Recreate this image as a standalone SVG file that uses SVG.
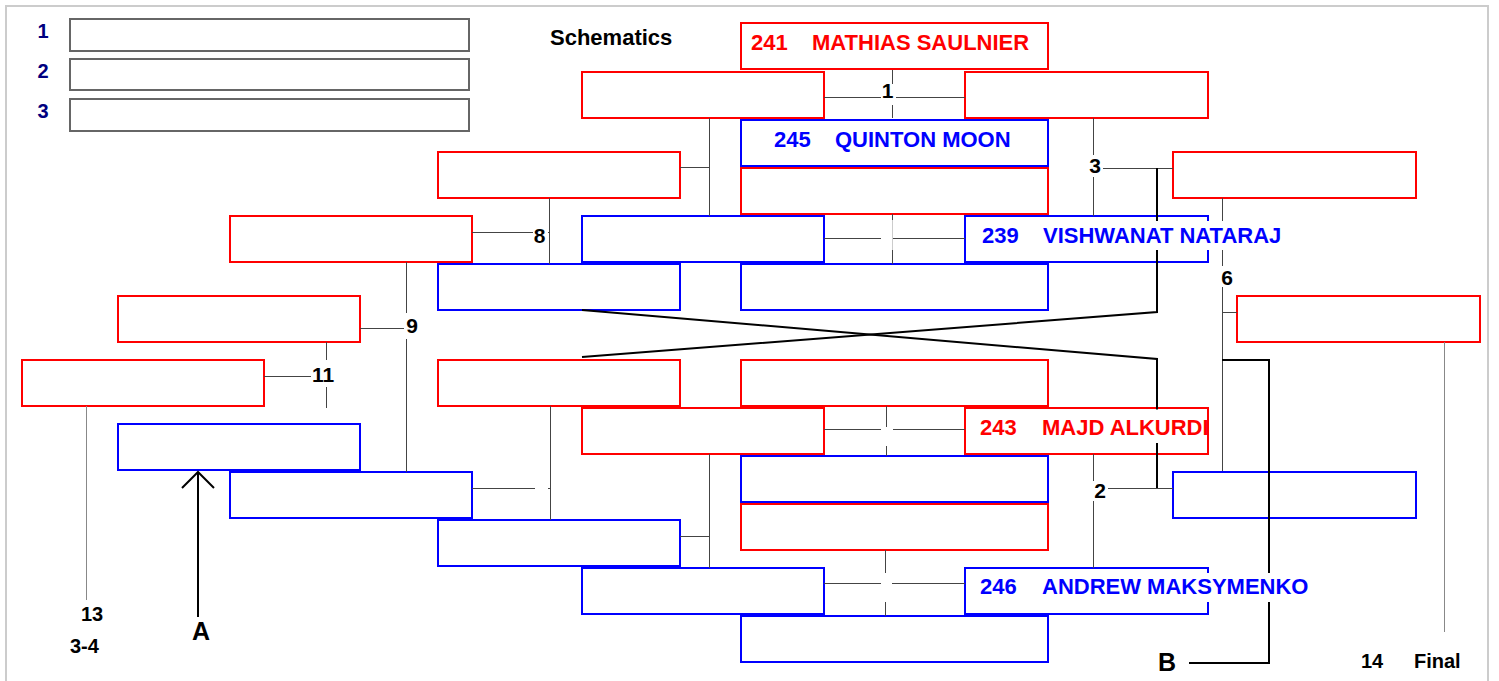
<svg xmlns="http://www.w3.org/2000/svg" width="1499" height="681" viewBox="0 0 1499 681">
<style>
text{font-family:"Liberation Sans",Arial,sans-serif;font-weight:bold}
.r{fill:#fff;stroke:#f00;stroke-width:2}
.b{fill:#fff;stroke:#00f;stroke-width:2}
.lg{fill:#fff;stroke:#666;stroke-width:2}
.tl{stroke:#444;stroke-width:1;fill:none}
.gl{stroke:#888;stroke-width:1;fill:none}
.lt{stroke:#ccc;stroke-width:1;fill:none}
.tk{stroke:#000;stroke-width:2;fill:none}
.bg{fill:#fff}
.num{font-size:21px;fill:#000;text-anchor:middle}
.nr{font-size:22px;fill:#f00}
.nb{font-size:22px;fill:#00f}
.leg{font-size:20px;fill:#000080;text-anchor:middle}
.lab{font-size:20px;fill:#000}
.big{font-size:25px;fill:#000;text-anchor:middle}
</style>
<rect x="0" y="0" width="1499" height="681" fill="#fff"/>
<rect x="6" y="6" width="1482" height="690" fill="none" stroke="#ccc" stroke-width="2"/>

<g id="legend">
<rect class="lg" x="70" y="19" width="399" height="32"/>
<rect class="lg" x="70" y="59" width="399" height="31"/>
<rect class="lg" x="70" y="99" width="399" height="32"/>
<text class="leg" x="43" y="38">1</text>
<text class="leg" x="43" y="78">2</text>
<text class="leg" x="43" y="118">3</text>
<text x="550" y="45" font-size="22" fill="#000">Schematics</text>
</g>

<g id="nodes">
<g id="n241"><rect class="r" x="741" y="23" width="307" height="46"/></g>
<g id="r2"><rect class="r" x="582" y="72" width="242" height="46"/></g>
<g id="r3"><rect class="r" x="965" y="72" width="243" height="46"/></g>
<g id="n245"><rect class="b" x="741" y="120" width="307" height="46"/></g>
<g id="r4"><rect class="r" x="741" y="168" width="307" height="46"/></g>
<g id="r5"><rect class="r" x="438" y="152" width="242" height="46"/></g>
<g id="r6"><rect class="r" x="1173" y="152" width="243" height="46"/></g>
<g id="r7"><rect class="r" x="230" y="216" width="242" height="46"/></g>
<g id="b2"><rect class="b" x="582" y="216" width="242" height="46"/></g>
<g id="n239"><rect class="b" x="965" y="216" width="243" height="46"/></g>
<g id="b4"><rect class="b" x="438" y="264" width="242" height="46"/></g>
<g id="b5"><rect class="b" x="741" y="264" width="307" height="46"/></g>
<g id="r8"><rect class="r" x="118" y="296" width="242" height="46"/></g>
<g id="r9"><rect class="r" x="1237" y="296" width="243" height="46"/></g>
<g id="r10"><rect class="r" x="22" y="360" width="242" height="46"/></g>
<g id="r11"><rect class="r" x="438" y="360" width="242" height="46"/></g>
<g id="r12"><rect class="r" x="741" y="360" width="307" height="46"/></g>
<g id="r13"><rect class="r" x="582" y="408" width="242" height="46"/></g>
<g id="n243"><rect class="r" x="965" y="408" width="243" height="46"/></g>
<g id="b6"><rect class="b" x="118" y="424" width="242" height="46"/></g>
<g id="b7"><rect class="b" x="741" y="456" width="307" height="46"/></g>
<g id="b8"><rect class="b" x="230" y="472" width="242" height="46"/></g>
<g id="b9"><rect class="b" x="1173" y="472" width="243" height="46"/></g>
<g id="r15"><rect class="r" x="741" y="504" width="307" height="46"/></g>
<g id="b10"><rect class="b" x="438" y="520" width="242" height="46"/></g>
<g id="b11"><rect class="b" x="582" y="568" width="242" height="46"/></g>
<g id="n246"><rect class="b" x="965" y="568" width="243" height="46"/></g>
<g id="b13"><rect class="b" x="741" y="616" width="307" height="46"/></g>
</g>

<g id="connectors">
<path class="tl" d="M824 97.5H965M892.5 70V118"/>
<path class="tl" d="M709.5 118V216M680 167.5H709.5"/>
<path class="tl" d="M1093.5 118V216M1093.5 168.5H1173"/>
<path class="tl" d="M824 238.5H965M892.5 214V220M892.5 250V264"/>
<path class="lt" d="M892.5 220V250"/>
<path class="tl" d="M472 232.5H549.5M549.5 198V264"/>
<path class="tl" d="M406.5 262V472M360 328.5H406.5"/>
<path class="tl" d="M326.5 342V408M264 376.5H326.5"/>
<path class="gl" d="M86.5 406V600"/>
<path class="tl" d="M1222.5 198V471M1222.5 312.5H1237"/>
<path class="gl" d="M1444.5 342V632"/>
<path class="tl" d="M824 429.5H965M886.5 406V456"/>
<path class="tl" d="M709.5 454V568M680 536.5H709.5"/>
<path class="tl" d="M1093.5 454V568M1093.5 488.5H1173"/>
<path class="tl" d="M824 583.5H965M885.5 550V616"/>
<path class="tl" d="M472 488.5H535M548 488.5H550.5M550.5 406V520"/>
<polyline class="tk" points="582,310 1157,359 1157,488"/>
<polyline class="tk" points="582,357 1157,312 1157,168"/>
<polyline class="tk" points="1222,360 1269,360 1269,663 1189,663"/>
<path class="tk" d="M198 472V617M182 488L198 472L214 488"/>
</g>

<g id="labels">
<rect class="bg" x="881" y="84" width="15" height="21"/>
<text class="num" x="887.5" y="98">1</text>
<rect class="bg" x="1087" y="155" width="16" height="22"/>
<text class="num" x="1095" y="173">3</text>
<rect class="bg" x="881" y="220" width="11" height="30"/>
<rect class="bg" x="533" y="224" width="15" height="20"/>
<text class="num" x="539.5" y="243">8</text>
<rect class="bg" x="404" y="313" width="16" height="26"/>
<text class="num" x="412" y="333">9</text>
<rect class="bg" x="311" y="360" width="24" height="27"/>
<text class="num" x="323" y="382">11</text>
<rect class="bg" x="1219" y="266" width="16" height="21"/>
<text class="num" x="1227" y="285">6</text>
<rect class="bg" x="881" y="427" width="12" height="19"/>
<rect class="bg" x="1091" y="481" width="17" height="20"/>
<text class="num" x="1100" y="498">2</text>
<rect class="bg" x="881" y="573" width="11" height="29"/>

<rect class="bg" x="748" y="28" width="290" height="30"/>
<text class="nr" x="751" y="50">241<tspan x="812">MATHIAS SAULNIER</tspan></text>
<rect class="bg" x="771" y="125" width="250" height="30"/>
<text class="nb" x="774" y="147">245<tspan x="835">QUINTON MOON</tspan></text>
<rect class="bg" x="979" y="221" width="311" height="29"/>
<text class="nb" x="982" y="243">239<tspan x="1043">VISHWANAT NATARAJ</tspan></text>
<rect class="bg" x="977" y="409.5" width="229" height="33.5"/>
<text class="nr" x="980" y="435">243<tspan x="1042">MAJD ALKURDI</tspan></text>
<rect class="bg" x="977" y="573" width="332" height="29"/>
<text class="nb" x="980" y="594">246<tspan x="1042">ANDREW MAKSYMENKO</tspan></text>

<text class="lab" x="81" y="621">13</text>
<text class="lab" x="70" y="653">3-4</text>
<text class="big" x="201" y="640">A</text>
<text class="big" x="1167" y="671">B</text>
<text class="lab" x="1361" y="668">14</text>
<text class="lab" x="1414" y="668">Final</text>
</g>
</svg>
